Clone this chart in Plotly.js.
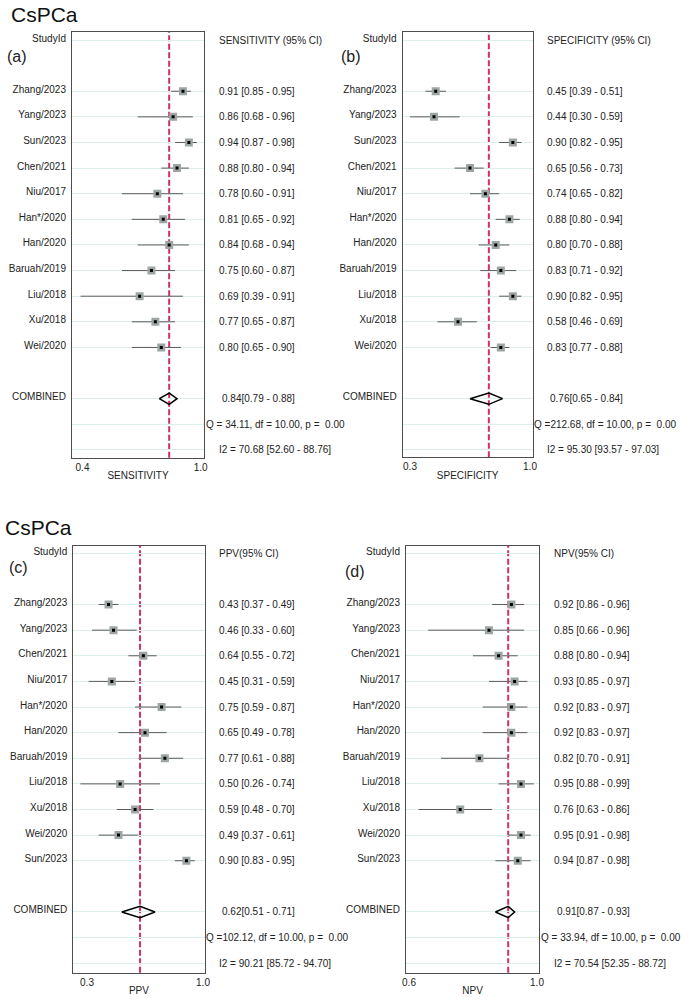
<!DOCTYPE html>
<html>
<head>
<meta charset="utf-8">
<script src="https://cdn.plot.ly/plotly-3.0.1.min.js"></script>
<style>html,body{margin:0;padding:0;background:#fff;}#chart{width:685px;height:1007px;}</style>
</head>
<body>
<div id="chart"></div>
<script>
// ---------- DATA ----------
const studiesTop = ["Zhang/2023","Yang/2023","Sun/2023","Chen/2021","Niu/2017","Han*/2020","Han/2020","Baruah/2019","Liu/2018","Xu/2018","Wei/2020"];
const sensEst = [0.91,0.86,0.94,0.88,0.78,0.81,0.84,0.75,0.69,0.77,0.80];
const sensLo  = [0.85,0.68,0.87,0.80,0.60,0.65,0.68,0.60,0.39,0.65,0.65];
const sensHi  = [0.95,0.96,0.98,0.94,0.91,0.92,0.94,0.87,0.91,0.87,0.90];
const sensPooled = [0.84,0.79,0.88];
const sensHet = ["Q = 34.11, df = 10.00, p =\u00A0 0.00","I2 = 70.68 [52.60 - 88.76]"];

const specEst = [0.45,0.44,0.90,0.65,0.74,0.88,0.80,0.83,0.90,0.58,0.83];
const specLo  = [0.39,0.30,0.82,0.56,0.65,0.80,0.70,0.71,0.82,0.46,0.77];
const specHi  = [0.51,0.59,0.95,0.73,0.82,0.94,0.88,0.92,0.95,0.69,0.88];
const specPooled = [0.76,0.65,0.84];
const specHet = ["Q =212.68, df = 10.00, p =\u00A0 0.00","I2 = 95.30 [93.57 - 97.03]"];

const studiesBottom = ["Zhang/2023","Yang/2023","Chen/2021","Niu/2017","Han*/2020","Han/2020","Baruah/2019","Liu/2018","Xu/2018","Wei/2020","Sun/2023"];
const ppvEst = [0.43,0.46,0.64,0.45,0.75,0.65,0.77,0.50,0.59,0.49,0.90];
const ppvLo  = [0.37,0.33,0.55,0.31,0.59,0.49,0.61,0.26,0.48,0.37,0.83];
const ppvHi  = [0.49,0.60,0.72,0.59,0.87,0.78,0.88,0.74,0.70,0.61,0.95];
const ppvPooled = [0.62,0.51,0.71];
const ppvHet = ["Q =102.12, df = 10.00, p =\u00A0 0.00","I2 = 90.21 [85.72 - 94.70]"];

const npvEst = [0.92,0.85,0.88,0.93,0.92,0.92,0.82,0.95,0.76,0.95,0.94];
const npvLo  = [0.86,0.66,0.80,0.85,0.83,0.83,0.70,0.88,0.63,0.91,0.87];
const npvHi  = [0.96,0.96,0.94,0.97,0.97,0.97,0.91,0.99,0.86,0.98,0.98];
const npvPooled = [0.91,0.87,0.93];
const npvHet = ["Q = 33.94, df = 10.00, p =\u00A0 0.00","I2 = 70.54 [52.35 - 88.72]"];

const xTicksA = [0.4,1.0], xTickTextA = ["0.4","1.0"];
const xTicksB = [0.3,1.0], xTickTextB = ["0.3","1.0"];
const xTicksC = [0.3,1.0], xTickTextC = ["0.3","1.0"];
const xTicksD = [0.6,1.0], xTickTextD = ["0.6","1.0"];

// ---------- LAYOUT HELPERS ----------
const W = 685, H = 1007;
const FONT = "Liberation Sans, Arial, sans-serif";
const TXT = "#222";
const ROW_HEADER = 0, ROW_FIRST = 2, ROW_COMB = 14, ROW_Q = 15, ROW_I2 = 16;

const panels = [
  {id:"", studies:studiesTop, est:sensEst, lo:sensLo, hi:sensHi, pooled:sensPooled, het:sensHet,
   header:"SENSITIVITY (95% CI)", title:"SENSITIVITY", ticks:xTicksA, tickText:xTickTextA,
   box:[72,204,32,457.7], range:[0.3467,1.0168], letter:"(a)", letterPos:[5,57]},
  {id:"2", studies:studiesTop, est:specEst, lo:specLo, hi:specHi, pooled:specPooled, het:specHet,
   header:"SPECIFICITY (95% CI)", title:"SPECIFICITY", ticks:xTicksB, tickText:xTickTextB,
   box:[402.7,532.7,32,457.3], range:[0.2574,1.0158], letter:"(b)", letterPos:[339,57]},
  {id:"3", studies:studiesBottom, est:ppvEst, lo:ppvLo, hi:ppvHi, pooled:ppvPooled, het:ppvHet,
   header:"PPV(95% CI)", title:"PPV", ticks:xTicksC, tickText:xTickTextC,
   box:[73.3,204.5,546,972.7], range:[0.2173,1.009], letter:"(c)", letterPos:[7,567]},
  {id:"4", studies:studiesBottom, est:npvEst, lo:npvLo, hi:npvHi, pooled:npvPooled, het:npvHet,
   header:"NPV(95% CI)", title:"NPV", ticks:xTicksD, tickText:xTickTextD,
   box:[406,539.3,546,972.7], range:[0.5906,1.0072], letter:"(d)", letterPos:[343,571]}
];

const traces = [];
const layout = {
  width: W, height: H,
  margin: {l:0, r:0, t:0, b:0},
  paper_bgcolor: "#fff", plot_bgcolor: "#fff",
  showlegend: false,
  font: {family: FONT, size: 10, color: TXT},
  annotations: [], shapes: []
};

panels.forEach(p => {
  const xa = "x" + p.id, ya = "y" + p.id;
  const rows = p.studies.map((_, i) => ROW_FIRST + i);
  const [bl, br, bt, bb] = p.box;
  const rowTop = bt, rowBottom = bb;
  // y range: header row 0 is 8px below box top, row pitch 25.6px
  const pitch = 25.62;
  const yTop = -((p.id === "3" || p.id === "4") ? 7.3 : 8) / pitch;
  const yBot = yTop + (bb - bt) / pitch;

  layout["xaxis" + p.id] = {
    domain: [bl / W, br / W], anchor: ya, range: p.range,
    tickvals: p.ticks, ticktext: p.tickText, ticks: "", showgrid: false, zeroline: false,
    showline: true, mirror: true, linecolor: "#4d4d4d", linewidth: 1,
    tickfont: {family: FONT, size: 10, color: TXT},
    title: {text: p.title, font: {family: FONT, size: 10, color: TXT}, standoff: 0},
    fixedrange: true
  };
  layout["yaxis" + p.id] = {
    domain: [1 - bb / H, 1 - bt / H], anchor: xa, range: [yBot, yTop],
    tickvals: [ROW_HEADER].concat(rows, [ROW_COMB, ROW_Q, ROW_I2]),
    ticktext: ["StudyId"].concat(p.studies, ["COMBINED", "", ""]),
    ticks: "", showgrid: true, gridcolor: "#dcefeb", gridwidth: 1, zeroline: false,
    showline: true, mirror: true, linecolor: "#4d4d4d", linewidth: 1,
    ticklabelstandoff: 3, ticklabelshift: 2,
    tickfont: {family: FONT, size: 10, color: TXT}, fixedrange: true
  };

  // CI lines via error bars + grey squares
  traces.push({
    type: "scatter", mode: "markers", xaxis: xa, yaxis: ya, x: p.est, y: rows,
    marker: {symbol: "square", size: 8, color: "#9da5a5", line: {width: 0}},
    error_x: {type: "data", symmetric: false,
      array: p.est.map((v, i) => p.hi[i] - v), arrayminus: p.est.map((v, i) => v - p.lo[i]),
      width: 0, thickness: 1, color: "#5a5a5a"},
    hoverinfo: "skip"
  });
  // black centre dots
  traces.push({
    type: "scatter", mode: "markers", xaxis: xa, yaxis: ya, x: p.est, y: rows,
    marker: {symbol: "square", size: 3, color: "#000"}, hoverinfo: "skip"
  });
  // pooled diamond
  const dh = 0.22;
  const [pe, pl, ph] = p.pooled;
  traces.push({
    type: "scatter", mode: "lines", xaxis: xa, yaxis: ya,
    x: [pl, pe, ph, pe, pl], y: [ROW_COMB, ROW_COMB - dh, ROW_COMB, ROW_COMB + dh, ROW_COMB],
    line: {color: "#000", width: 1.5}, hoverinfo: "skip"
  });
  // dashed pooled line
  layout.shapes.push({
    type: "line", xref: xa, yref: ya + " domain", x0: pe, x1: pe, y0: 0, y1: 1,
    line: {color: "#cf2f6c", width: 2, dash: "6px,2.5px"}, layer: "below"
  });

  // right-hand text
  const ann = (text, y, shift) => layout.annotations.push({
    xref: xa + " domain", yref: ya, x: 1, y: y, xanchor: "left", yanchor: "middle",
    xshift: shift, text: text, showarrow: false,
    font: {family: FONT, size: 10, color: TXT}
  });
  ann(p.header, ROW_HEADER, 12.5);
  p.est.forEach((v, i) => ann(v.toFixed(2) + " [" + p.lo[i].toFixed(2) + " - " + p.hi[i].toFixed(2) + "]", rows[i], 12.5));
  ann(pe.toFixed(2) + "[" + pl.toFixed(2) + " - " + ph.toFixed(2) + "]", ROW_COMB, 15.5);
  ann(p.het[0], ROW_Q, -0.5);
  ann(p.het[1], ROW_I2, 12.5);

  // panel letter
  layout.annotations.push({
    xref: "paper", yref: "paper", x: p.letterPos[0] / W, y: 1 - p.letterPos[1] / H,
    xanchor: "left", yanchor: "middle", text: p.letter, showarrow: false,
    font: {family: FONT, size: 16, color: TXT}
  });
});

// section titles
[[9, 15], [3, 527]].forEach(pos => layout.annotations.push({
  xref: "paper", yref: "paper", x: pos[0] / W, y: 1 - pos[1] / H,
  xanchor: "left", yanchor: "middle", text: "CsPCa", showarrow: false,
  font: {family: FONT, size: 21, color: "#111"}
}));

Plotly.newPlot("chart", traces, layout, {displayModeBar: false, staticPlot: true});
</script>
</body>
</html>
